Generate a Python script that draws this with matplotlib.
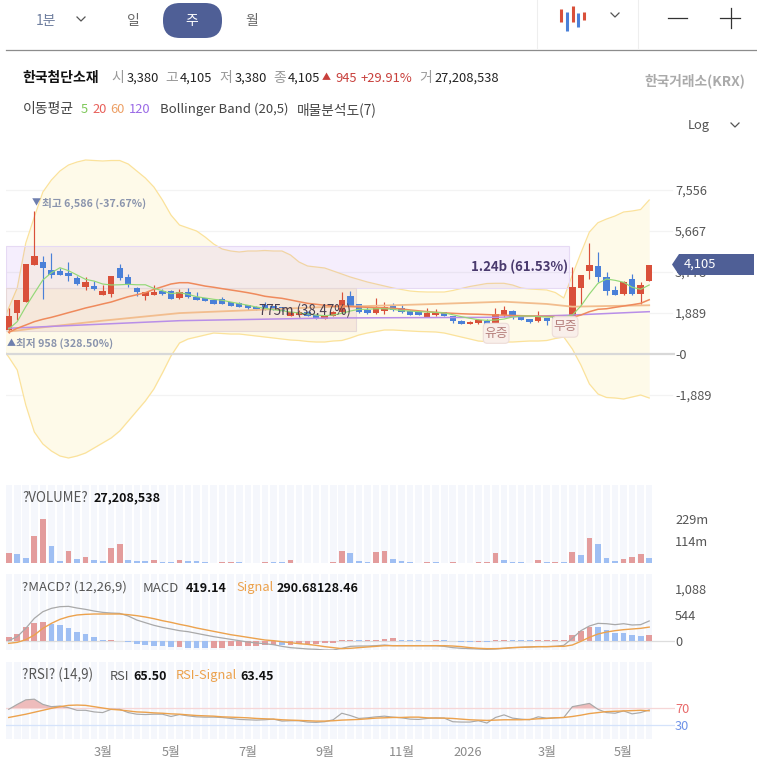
import numpy as np
import matplotlib
matplotlib.use("Agg")
import matplotlib.pyplot as plt
from matplotlib.patches import FancyBboxPatch, Polygon, Rectangle

plt.rcParams['font.family'] = ['Noto Sans CJK KR', 'DejaVu Sans']

W, H = 757, 780

# weekly candles
opens = [1105, 1903, 2410, 4100, 4250, 3870, 3810, 3745, 3485, 3075, 3130, 2720, 2750, 3950, 3530, 3030, 2670, 2720, 2915,
         2890, 2580, 2840, 2640, 2580, 2475, 2520, 2380, 2350, 2270, 2180, 2260, 2210, 2165, 1765, 1800, 1935, 1810, 1625,
         1750, 1950, 2670, 2290, 2025, 1900, 1995, 2210, 2105, 1995, 1965, 1705, 1785, 1935, 1735, 1505, 1370, 1415, 1535,
         1440, 1785, 1995, 1750, 1610, 1505, 1645, 1720, 1700, 1720, 3055, 3825, 4055, 3535, 2950, 2765, 3440, 2765, 3380]
highs = [2120, 2500, 4150, 6586, 4515, 4665, 3975, 4240, 3595, 3560, 3375, 3180, 3600, 4145, 3685, 3100, 2850, 3180, 2980,
         2950, 2980, 3030, 2870, 2590, 2500, 2610, 2400, 2410, 2280, 2190, 2410, 2230, 2180, 1960, 2050, 1960, 1830, 1760,
         1980, 2870, 2900, 2310, 2180, 2580, 2410, 2335, 2290, 2010, 1980, 2105, 2060, 1950, 1750, 1565, 1500, 1610, 1610,
         2105, 2210, 2010, 1770, 1630, 1995, 1660, 1740, 1720, 4020, 3650, 5100, 4715, 3790, 3135, 3345, 3670, 3315, 4105]
lows = [958, 1566, 2400, 4100, 2535, 3500, 3640, 3375, 3180, 2950, 2950, 2700, 2640, 3410, 3100, 2670, 2490, 2700, 2720,
        2530, 2535, 2600, 2480, 2420, 2310, 2310, 2200, 2170, 2030, 2050, 2050, 2020, 1970, 1740, 1780, 1740, 1610, 1610,
        1740, 1890, 2190, 1900, 1860, 1840, 1840, 1995, 1890, 1800, 1780, 1690, 1770, 1740, 1440, 1360, 1360, 1400, 1390,
        1430, 1690, 1600, 1550, 1450, 1490, 1320, 1600, 1620, 1700, 2260, 3455, 3330, 2730, 2700, 2720, 2720, 2305, 3380]
closes = [1764, 2488, 4146, 4515, 3975, 3640, 3640, 3580, 3240, 3300, 2980, 2890, 3595, 3500, 3180, 2870, 2840, 2870, 2765,
          2535, 2840, 2610, 2490, 2430, 2320, 2320, 2210, 2180, 2105, 2060, 2075, 2030, 1980, 1950, 1950, 1750, 1625, 1750,
          1920, 2490, 2210, 1920, 1875, 2105, 2180, 2025, 1950, 1810, 1795, 1875, 1935, 1750, 1520, 1370, 1490, 1550, 1395,
          1845, 2015, 1690, 1565, 1460, 1720, 1535, 1625, 1640, 3075, 3640, 4085, 3545, 2890, 2720, 3330, 2750, 3180, 4105]

ma5 = [1150, 1490, 2180, 2800, 3410, 3745, 3975, 3840, 3640, 3440, 3360, 3225, 3180, 3190, 3210, 3190, 3190, 3025, 2915,
       2780, 2825, 2750, 2640, 2580, 2520, 2475, 2395, 2320, 2245, 2165, 2105, 2040, 1995, 1935, 1890, 1845, 1795, 1765,
       1795, 1875, 1980, 2060, 2060, 2085, 2085, 2060, 1995, 1980, 1950, 1935, 1920, 1890, 1810, 1720, 1645, 1580, 1550,
       1565, 1610, 1705, 1750, 1750, 1720, 1705, 1705, 1705, 1795, 2210, 2765, 3255, 3455, 3395, 3305, 3075, 2980, 3180]
ma20 = [1000, 1185, 1335, 1490, 1600, 1690, 1795, 1905, 2010, 2120, 2210, 2305, 2395, 2520, 2640, 2730, 2825, 2980, 3100,
        3225, 3285, 3285, 3210, 3130, 3075, 3010, 2950, 2890, 2825, 2750, 2660, 2610, 2565, 2490, 2410, 2335, 2290, 2245,
        2200, 2210, 2190, 2170, 2150, 2140, 2120, 2105, 2075, 2030, 1990, 1955, 1920, 1895, 1875, 1855, 1840, 1830, 1815,
        1800, 1790, 1775, 1765, 1755, 1745, 1735, 1725, 1720, 1690, 1795, 1950, 2060, 2085, 2150, 2210, 2270, 2335, 2500]
ma60_idx = [0, 3, 11, 20, 29, 36, 42, 50, 58, 63, 66, 70, 75]
ma60 = [1030, 1185, 1535, 1885, 2030, 2150, 2210, 2305, 2410, 2305, 2180, 2210, 2245]
ma120_idx = [0, 20, 38, 57, 66, 75]
ma120 = [1185, 1535, 1660, 1690, 1795, 1950]

# bollinger band, first entry is the week before the visible window
bb_upper = [1150, 2119, 3041, 5114, 6312, 7463, 8016, 8431, 8707, 8845, 8938, 8915, 8892, 8915, 8915, 8753, 8431, 8108,
            7694, 7095, 6404, 5943, 5805, 5667, 5390, 5068, 4837, 4745, 4699, 4745, 4745, 4768, 4745, 4745, 4561, 4238,
            4054, 4008, 3962, 3824, 3686, 3547, 3432, 3317, 3225, 3133, 3041, 2972, 2902, 2870, 2856, 2856, 2856, 2925,
            3018, 3110, 3179, 3248, 3257, 3257, 3179, 3041, 2995, 2972, 2948, 2833, 2580, 3640, 4653, 5621, 6049, 6219,
            6358, 6542, 6588, 6657, 7095]
bb_lower = [415, -138, -737, -2350, -3593, -4146, -4469, -4699, -4791, -4699, -4561, -4331, -4100, -3870, -3547, -3087,
            -2626, -2165, -1612, -875, -92, 507, 691, 783, 875, 967, 944, 921, 921, 875, 829, 783, 737, 691, 645, 622, 576,
            553, 553, 599, 622, 737, 875, 967, 1037, 1106, 1106, 1083, 1060, 1037, 1027, 1014, 967, 875, 783, 691, 599, 567,
            553, 553, 553, 576, 599, 599, 622, 714, 783, 230, -507, -1382, -1843, -2004, -2027, -2073, -1981, -1889, -2027]

# price volume zones: low, high, width in weeks
zone_low = [3041, 1060]
zone_high = [4976, 3041]
zone_weeks = [65.9, 41.0]

price_ticks = [7556, 5667, 3778, 1889, 0, -1889]
price_labels = ["7,556", "5,667", "3,778", "1,889", "-0", "-1,889"]

volume = [50, 45, 28, 142, 229, 90, 12, 61, 22, 33, 17, 12, 78, 97, 17, 12, 12, 17, 3.5, 3.5, 17, 12, 12, 3.5, 1, 3.5, 3.5,
          3.5, 2, 2, 3.5, 3.5, 3.5, 17, 1, 1, 1, 1, 3.5, 61, 50, 12, 3.5, 55, 60, 21, 12, 3.5, 1, 3.5, 3.5, 1, 3.5, 1, 1, 3.5,
          3.5, 50, 16, 3.5, 3.5, 1, 16, 3.5, 3.5, 3.5, 55, 43, 130, 97, 28, 12, 21, 31, 45, 27.2]
volume_side = list("rbbrrbbrbr" "bbrrbbbrbb" "rbbbbrrbbb" "rbbrbbbbrr" "bbbrrbbbbr" "bbrbbrrrbb" "bbrbrbrbrb" "bbrrrb")

macd = [7, 91, 265, 474, 613, 683, 718, 725, 690, 662, 627, 599, 585, 578, 523, 439, 383, 328, 286, 251, 216, 195, 160, 125,
        91, 63, 35, 7, -21, -42, -56, -77, -112, -139, -153, -167, -174, -188, -188, -153, -112, -105, -105, -98, -84, -98,
        -98, -98, -98, -98, -98, -112, -139, -153, -160, -167, -174, -167, -153, -139, -132, -125, -118, -118, -112, -91, 56,
        216, 314, 369, 362, 342, 362, 335, 342, 419.14]
macd_signal = [-49, -28, 28, 125, 265, 369, 453, 509, 544, 558, 565, 565, 565, 565, 551, 530, 502, 467, 425, 390, 349, 314,
               272, 237, 202, 167, 132, 105, 77, 49, 21, 7, -14, -35, -56, -70, -91, -118, -139, -160, -153, -139, -125, -112,
               -98, -98, -98, -98, -98, -98, -98, -98, -105, -118, -139, -153, -160, -160, -153, -139, -132, -125, -118, -118,
               -112, -112, -84, -7, 77, 146, 188, 216, 237, 251, 265, 290.68]
macd_hist = [84, 146, 286, 369, 397, 355, 328, 265, 195, 146, 77, 28, 28, 7, -14, -63, -84, -98, -112, -125, -132, -139,
             -139, -139, -139, -139, -112, -105, -98, -98, -91, -84, -84, -77, -70, -63, -56, -49, -35, 28, 28, 28, 28, 28, 49,
             56, 28, 28, 28, 5, 28, 28, 5, -14, -14, -14, -14, 28, 28, 28, 28, 28, 28, 28, 28, 28, 125, 209, 293, 293, 237, 174,
             174, 125, 105, 128.46]
macd_side = list("rrrrr" "bbbbbbb" "r" "bbbbbbb" "r" "bbb" "rrrrrrrr" "b" "rrrrrrrr" "b" "rrrr" "bbb" "rr" "bbbb" "r" "b" "rr"
                 "bbb" "rrrrrrr" "bbbbbb" "r")

rsi = [66.9, 78.5, 89.2, 90.8, 78.5, 73.1, 74.6, 70.8, 64.6, 64.6, 60.8, 59.2, 66.9, 66.9, 59.2, 55.4, 54.6, 55.4, 55.4, 50,
       54.6, 51.5, 49.2, 48.5, 48.5, 47.7, 45.4, 43.1, 42.3, 41.5, 42.3, 43.8, 39.2, 40, 40, 36.9, 36.2, 37.7, 42.3, 57.7, 52.3,
       45.4, 46.9, 49.2, 50.8, 48.5, 46.9, 43.8, 43.1, 45.4, 46.9, 46.2, 37.7, 36.9, 36.9, 40, 34.6, 47.7, 53.8, 46.2, 43.8,
       42.3, 49.2, 46.2, 46.9, 47.7, 73.1, 76.9, 80.8, 66.9, 59.2, 57.7, 63.1, 56.2, 59.2, 65.5]
rsi_signal = [47.7, 51.5, 55.4, 60, 64.6, 69.2, 73.1, 76.2, 76.9, 76.2, 73.1, 70, 66.9, 65.4, 63.1, 60.8, 60, 58.5, 57.7, 56.2,
              55.4, 53.8, 52.3, 51.5, 50.8, 49.2, 48.5, 47.7, 46.9, 45.4, 44.6, 43.8, 42.3, 41.5, 40.8, 40, 39.2, 39.2, 40, 41.5,
              42.3, 43.1, 44.6, 46.2, 46.9, 47.7, 47.7, 48.5, 48.5, 46.9, 46.2, 46.2, 45.4, 43.8, 42.3, 41.5, 40.8, 41.5, 42.3,
              42.3, 42.3, 43.1, 44.6, 45.4, 46.9, 47.7, 50, 53.1, 56.9, 59.2, 61.5, 62.3, 63.1, 63.8, 64.6, 63.45]

month_idx = [11, 19, 28, 37, 46, 53.7, 63, 72]
month_labels = ["3월", "5월", "7월", "9월", "11월", "2026", "3월", "5월"]

RED = '#d9503a'
BLUE = '#4a80d8'
PALE_RED = '#e39c9c'
PALE_BLUE = '#9fbff3'
ORANGE = '#eca24d'
NAVY = '#4f5f96'
TICK_SIZE = 9.2

x = np.arange(len(closes))
x_band = np.arange(-1, len(closes))


def pane(top, bottom):
    # axes placed by pixel rows, all panes share the same week scale
    ax = fig.add_axes([6 / W, 1 - bottom / H, 669 / W, (bottom - top) / H])
    ax.patch.set_alpha(0)
    ax.set_xlim((6 - 8.7) / 8.54, (675 - 8.7) / 8.54)
    for s in ax.spines.values():
        s.set_visible(False)
    ax.yaxis.tick_right()
    ax.tick_params(length=0, pad=0, labelsize=TICK_SIZE, labelcolor='#555555')
    ax.set_xticks([])
    return ax


def stripes(ax, y0, y1):
    ax.bar(x, y1 - y0, bottom=y0, width=0.77, color='#f5f7fc', zorder=0)


fig = plt.figure(figsize=(W / 100, H / 100), dpi=100, facecolor='white')

#############
# price pane #
#############
px = 1889 / 41
ax = pane(150, 470)
ax.set_ylim(-116 * px, 204 * px)
ax.set_yticks(price_ticks, price_labels)
for t in price_ticks:
    if t != 0:
        ax.axhline(t, xmax=666 / 669, color='#f3f3f3', lw=0.9, zorder=0)

ax.fill_between(x_band, bb_lower, bb_upper, color='#fefae9', lw=0, zorder=1)
ax.plot(x_band, bb_upper, color='#fbe29b', lw=0.9, zorder=2)
ax.plot(x_band, bb_lower, color='#fbe29b', lw=0.9, zorder=2)

ax.axhline(0, color='#d8d8d8', lw=1.6, zorder=2)

zone_colors = ['#a060f0', '#b05068']
zone_edges = ['#e6daf4', '#e6d8d8']
for low, high, weeks, c, e in zip(zone_low, zone_high, zone_weeks, zone_colors, zone_edges):
    ax.add_patch(Rectangle((-0.316, low), weeks, high - low, facecolor=c, alpha=0.10, lw=0, zorder=3))
    ax.add_patch(Rectangle((-0.316, low), weeks, high - low, fill=False, edgecolor=e, lw=0.8, zorder=3))

for i in x:
    c = RED if closes[i] >= opens[i] else BLUE
    ax.vlines(i, lows[i], highs[i], color=c, lw=0.85, zorder=4)
    ax.bar(i, abs(closes[i] - opens[i]), bottom=min(opens[i], closes[i]), width=0.75, color=c, zorder=4)

ax.plot(ma60_idx, ma60, color='#f2bd8e', lw=1.3, zorder=5)
ax.plot(ma120_idx, ma120, color='#b88ee8', lw=1.1, zorder=5)
ax.plot(x, ma20, color='#ef8a5c', lw=1.1, zorder=5)
ax.plot(x, ma5, color='#93d877', lw=0.85, zorder=6)

ax.text(65.5, 4008, "1.24b (61.53%)", ha='right', va='center', fontsize=9.5, fontweight='bold', color='#4a3a6e', zorder=7)
ax.text(40.1, 1990, "775m (38.47%)", ha='right', va='center', fontsize=9.6, fontweight='medium', color='#4a3f50', zorder=7)
ax.text(2.7, 6940, "▼", ha='left', va='center', fontsize=6.5, color='#6e7fae', zorder=7)
ax.text(3.9, 6940, "최고 6,586 (-37.67%)", ha='left', va='center', fontsize=7.7, fontweight='bold', color='#8a94ad', zorder=7)
ax.text(-0.2, 500, "▲", ha='left', va='center', fontsize=6.5, color='#6e7fae', zorder=7)
ax.text(0.8, 500, "최저 958 (328.50%)", ha='left', va='center', fontsize=7.7, fontweight='bold', color='#8a94ad', zorder=7)

##########
# volume #
##########
ax = pane(485, 563)
ax.set_ylim(0, 78 * 114 / 22)
stripes(ax, 0, 78 * 114 / 22)
ax.set_yticks([114, 229], ["114m", "229m"])
ax.bar(x, volume, width=0.67, color=[PALE_RED if s == 'r' else PALE_BLUE for s in volume_side], zorder=2)

########
# MACD #
########
unit = 544 / 26
ax = pane(574, 650)
ax.set_ylim(-9 * unit, 67 * unit)
stripes(ax, -9 * unit, 67 * unit)
ax.set_yticks([0, 544, 1088], ["0", "544", "1,088"])
ax.axhline(0, color='#dddddd', lw=0.9, zorder=1)
ax.bar(x, macd_hist, width=0.67, color=[PALE_RED if s == 'r' else PALE_BLUE for s in macd_side], zorder=2)
ax.plot(x, macd, color='#a9a9a9', lw=0.9, zorder=3)
ax.plot(x, macd_signal, color=ORANGE, lw=1.0, zorder=4)

#######
# RSI #
#######
unit = 40 / 17
ax = pane(662, 739)
ax.set_ylim(70 - 31 * unit, 70 + 46 * unit)
stripes(ax, 70 - 31 * unit, 70 + 46 * unit)
ax.set_yticks([30, 70], ["30", "70"])
ax.get_yticklabels()[0].set_color('#6f93e8')
ax.get_yticklabels()[1].set_color('#e86a6a')
ax.axhline(70, color='#f6d6d6', lw=0.9, zorder=1)
ax.axhline(30, color='#d5e3fb', lw=0.9, zorder=1)
ax.fill_between(x, rsi, 70, where=np.array(rsi) > 70, interpolate=True, color='#eebcbc', lw=0, zorder=2)
ax.plot(x, rsi, color='#a9a9a9', lw=0.85, zorder=3)
ax.plot(x, rsi_signal, color=ORANGE, lw=1.0, zorder=4)
ax.set_xticks(month_idx, month_labels)
ax.tick_params(axis='x', length=0, pad=5, labelsize=TICK_SIZE, labelcolor='#8a8a8a')

###################
# toolbar and text #
###################
top = fig.add_axes([0, 0, 1, 1], zorder=10)
top.set_xlim(0, W)
top.set_ylim(H, 0)
top.axis('off')


def txt(px_x, px_y, s, color='#333333', size=9.3, weight='normal', ha='left'):
    top.text(px_x, px_y, s, color=color, fontsize=size, fontweight=weight, ha=ha, va='center')


def chevron(cx, cy, size=4):
    top.plot([cx - size, cx, cx + size], [cy - size / 2, cy + size / 2, cy - size / 2], color='#555555', lw=0.9)


txt(36, 21, "1분", color='#6f7f9f', size=10)
chevron(81, 19)
txt(133, 21, "일", color='#666666', size=10, ha='center')
top.add_patch(FancyBboxPatch((163, 3), 59, 35, boxstyle='round,pad=0,rounding_size=17', facecolor=NAVY, lw=0))
txt(192, 21, "주", color='white', size=10, ha='center')
txt(252, 21, "월", color='#666666', size=10, ha='center')

for bx, y0, y1, c in [(561, 9, 22, RED), (567, 12, 31, BLUE), (573, 6, 22, RED), (578, 13, 27, BLUE), (584, 12, 20, RED)]:
    top.plot([bx, bx], [y0, y1], color=c, lw=2.2, solid_capstyle='butt')
chevron(615, 15)
for sx in [536.5, 637.5]:
    top.plot([sx, sx], [0, 48], color='#eeeeee', lw=0.8)
top.plot([668, 687], [18, 18], color='#333333', lw=0.9)
top.plot([720, 740], [18, 18], color='#333333', lw=0.9)
top.plot([730.5, 730.5], [8, 28], color='#333333', lw=0.9)
top.plot([6, W], [49.5, 49.5], color='#8c8c8c', lw=0.9)

txt(22.5, 78, "한국첨단소재", color='#111111', size=10, weight='bold')
for lx, s in [(111, "시"), (165, "고"), (219, "저"), (273, "종"), (419, "거")]:
    txt(lx, 78, s, color='#999999', size=10)
for lx, s in [(127, "3,380"), (180, "4,105"), (234.5, "3,380"), (288, "4,105"), (434, "27,208,538")]:
    txt(lx, 78, s, color='#222222', weight='medium')
txt(322, 78, "▲", color='#c8403c', size=6.5)
txt(335, 78, "945", color='#c8403c', weight='medium')
txt(360.5, 78, "+29.91%", color='#c8403c', weight='medium')
txt(745, 81, "한국거래소(KRX)", color='#aaaaaa', size=9.9, weight='bold', ha='right')

txt(22.5, 109.5, "이동평균", color='#444444', size=10)
txt(80.5, 109.5, "5", color='#7ec85a')
txt(92, 109.5, "20", color='#e8605a')
txt(110, 109.5, "60", color='#eda066')
txt(129, 109.5, "120", color='#9a6ae6')
txt(160, 109.5, "Bollinger Band (20,5)", color='#444444', size=9.5)
txt(297, 109.5, "매물분석도(7)", color='#444444', size=9.9)
txt(688, 125, "Log", color='#555555')
chevron(735, 125)

# corporate action badges sit on top of the candles
for bx, by, bw, bh, s in [(483.3, 323.3, 25.7, 20, "유증"), (552.3, 316.7, 25.7, 20.5, "무증")]:
    top.add_patch(FancyBboxPatch((bx, by), bw, bh, boxstyle='round,pad=0,rounding_size=4',
                                 facecolor='#f9efea', edgecolor='#eddcd8', lw=0.8))
    txt(bx + bw / 2, by + bh / 2, s, color='#b57f7c', size=9.2, ha='center')

top.add_patch(Polygon([(672, 264.5), (679, 254), (754, 254), (754, 275), (679, 275)], closed=True, facecolor=NAVY, lw=0))
txt(684, 264.5, "4,105", color='white', weight='medium')

txt(22, 498, "?VOLUME?", color='#555555', size=9.6)
txt(94, 498, "27,208,538", color='#111111', size=9, weight='bold')
txt(22, 587, "?MACD? (12,26,9)", color='#555555', size=9.5)
txt(143, 588, "MACD", color='#555555', size=9.5)
txt(186, 588, "419.14", color='#111111', size=9, weight='bold')
txt(236, 588, "Signal", color=ORANGE)
txt(277, 588, "290.68128.46", color='#111111', size=9, weight='bold')
txt(22, 675, "?RSI? (14,9)", color='#555555', size=9.6)
txt(109.5, 676, "RSI", color='#555555')
txt(133, 676, "65.50", color='#111111', size=9, weight='bold')
txt(176, 676, "RSI-Signal", color=ORANGE)
txt(240, 676, "63.45", color='#111111', size=9, weight='bold')

fig.savefig("out.png", dpi=100)
